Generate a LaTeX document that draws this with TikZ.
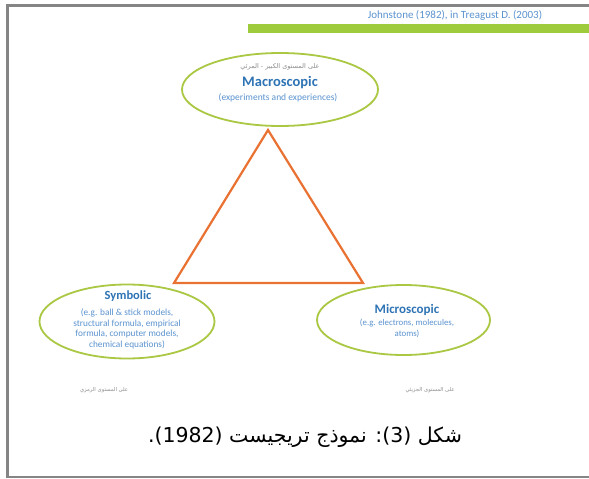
\documentclass[tikz,border=0pt]{standalone}
\usepackage{fontspec}
\usetikzlibrary{shapes.geometric}
\setmainfont{Carlito}
\newfontfamily\arabicfont[Script=Arabic]{DejaVu Sans}
\TeXXeTstate=1
\definecolor{framegray}{HTML}{858585}
\definecolor{bargreen}{HTML}{9DCB3B}
\definecolor{ellgreen}{HTML}{AAC843}
\definecolor{triorange}{HTML}{E97132}
\definecolor{titleblue}{HTML}{2E74B5}
\definecolor{subblue}{HTML}{5B93CF}
\definecolor{labgray}{HTML}{8C8C8C}
\begin{document}
\begin{tikzpicture}[x=1pt,y=-1pt,
  lvl/.style={ellipse, draw=ellgreen, line width=1.8pt, fill=white, inner sep=0pt},
  title/.style={font=\bfseries\fontsize{12.5}{14}\selectfont, text=titleblue},
  sub/.style={font=\fontsize{9.3}{10.4}\selectfont, text=subblue, align=center},
  arlab/.style={font=\arabicfont\fontsize{5.3}{7}\selectfont, text=labgray}
]
\useasboundingbox (0,0) rectangle (589,479);
\fill[white] (0,0) rectangle (589,479);
% frame
\draw[framegray, line width=2.3pt] (589,5.5) -- (7.5,5.5) -- (7.5,477) -- (589,477);
% top bar and citation
\fill[bargreen] (248,24) rectangle (589,33);
\node[font=\fontsize{11}{12}\selectfont, text=subblue] (cite) at (455,15) {Johnstone (1982), in Treagust D. (2003)};
% triangle
\coordinate (apex) at (268,130);
\coordinate (bl) at (174,283);
\coordinate (br) at (363,283);
\draw[triorange, line width=2.2pt, line join=miter] (apex) -- (br) -- (bl) -- cycle;
% ellipses
\node[lvl, minimum width=196pt, minimum height=73pt] (macro) at (280,89.5) {};
\node[lvl, minimum width=175pt, minimum height=74pt] (symb) at (127,321.5) {};
\node[lvl, minimum width=173pt, minimum height=70pt] (micro) at (403.5,320) {};
% macro texts
\node[arlab, font=\arabicfont\fontsize{6.5}{8}\selectfont] (macroar) at (280,67) {\beginR على المستوى الكبير - المرئي\endR};
\node[title, font=\bfseries\fontsize{14.5}{16}\selectfont] (macrot) at (280,82.5) {Macroscopic};
\node[sub, font=\fontsize{9.5}{11}\selectfont] (macros) at (278,98) {(experiments and experiences)};
% symbolic texts
\node[title] (symbt) at (128,296) {Symbolic};
\node[sub, anchor=north] (symbs) at (127,305.5) {(e.g. ball \& stick models,\\structural formula, empirical\\formula, computer models,\\chemical equations)};
% micro texts
\node[title, font=\bfseries\fontsize{13}{15}\selectfont] (microt) at (407,310) {Microscopic};
\node[sub, anchor=north, font=\fontsize{8.8}{10.2}\selectfont] (micros) at (407,316) {(e.g. electrons, molecules,\\atoms)};
% bottom labels
\node[arlab] (symbar) at (104,390) {\beginR على المستوى الرمزي\endR};
\node[arlab] (microar) at (430,390) {\beginR على المستوى الجزيئي\endR};
% caption
\node[font=\arabicfont\fontsize{20.5}{24}\selectfont] (cap) at (305,437) {\beginR شكل (3): نموذج تريجيست (1982).\endR};
\end{tikzpicture}
\end{document}
